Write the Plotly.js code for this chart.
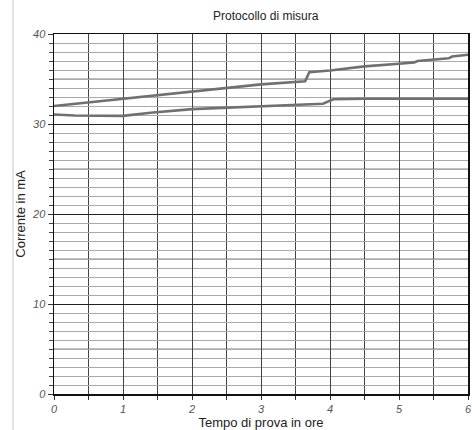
<!DOCTYPE html>
<html>
<head>
<meta charset="utf-8">
<script src="https://cdn.plot.ly/plotly-3.0.1.min.js"></script>
<style>
  html, body { margin: 0; padding: 0; background: #fff; }
  #chart { width: 472px; height: 430px; }
</style>
</head>
<body>
<div id="chart"></div>
<script>
// Measurement log: current (mA) over test time (hours), two recorded curves
const timeUpper = [0, 1, 2, 3, 3.64, 3.67, 3.7, 4, 4.5, 5, 5.22, 5.27, 5.72, 5.77, 6];
const currentUpper = [32.0, 32.8, 33.6, 34.4, 34.75, 35.3, 35.75, 35.95, 36.4, 36.7, 36.85, 37.0, 37.3, 37.5, 37.7];

const timeLower = [0, 0.3, 1.0, 1.4, 2.0, 2.8, 3.5, 3.9, 4.0, 4.05, 4.5, 5, 6];
const currentLower = [31.05, 30.95, 30.9, 31.25, 31.65, 31.9, 32.1, 32.25, 32.6, 32.75, 32.8, 32.8, 32.8];

const xTicks = [0, 1, 2, 3, 4, 5, 6];
const yTicks = [0, 10, 20, 30, 40];
const midLines = [5, 15, 25, 35];

const lineStyle = { color: '#707070', width: 2.6 };
const fontFamily = '"Liberation Sans", Arial, Helvetica, sans-serif';
const tickFont = { family: fontFamily, size: 11, color: '#555', style: 'italic' };

const traces = [
  { x: timeUpper, y: currentUpper, mode: 'lines', line: lineStyle, hoverinfo: 'skip' },
  { x: timeLower, y: currentLower, mode: 'lines', line: lineStyle, hoverinfo: 'skip' }
];

// slightly stronger grid lines every 5 mA between the labelled ones
const shapes = midLines.map(v => ({
  type: 'line', xref: 'paper', x0: 0, x1: 1, yref: 'y', y0: v, y1: v,
  line: { color: '#808080', width: 1 }, layer: 'below'
}));
// faint page edge at the left
shapes.push({
  type: 'line', xref: 'paper', x0: -0.099, x1: -0.099, yref: 'paper', y0: -0.1, y1: 1.1,
  line: { color: '#e4e4e4', width: 2 }
});

const layout = {
  width: 472, height: 430,
  margin: { l: 54, r: 4, t: 34, b: 36 },
  paper_bgcolor: '#fff', plot_bgcolor: '#fff',
  showlegend: false,
  font: { family: fontFamily, color: '#222' },
  title: {
    text: 'Protocollo di misura',
    font: { family: fontFamily, size: 12, color: '#222' },
    x: 0.563, xanchor: 'center', y: 0.963, yanchor: 'middle'
  },
  xaxis: {
    range: [0, 6], tickvals: xTicks, ticktext: xTicks.map(String),
    showgrid: true, gridcolor: '#444', gridwidth: 1,
    showline: true, linecolor: '#111', linewidth: 1.5, mirror: true,
    ticks: 'outside', ticklen: 4, tickcolor: '#333',
    tickfont: tickFont, zeroline: false,
    minor: { dtick: 0.5, showgrid: true, gridcolor: '#444', gridwidth: 1, ticks: 'outside', ticklen: 4, tickcolor: '#333' },
    title: { text: 'Tempo di prova in ore', font: { family: fontFamily, size: 13, color: '#222' }, standoff: 6 },
    fixedrange: true
  },
  yaxis: {
    range: [0, 40], tickvals: yTicks, ticktext: yTicks.map(String),
    showgrid: true, gridcolor: '#222', gridwidth: 1,
    showline: true, linecolor: '#111', linewidth: 1.5, mirror: true,
    ticks: 'outside', ticklen: 5, tickcolor: '#333',
    tickfont: tickFont, zeroline: false,
    minor: { dtick: 1, showgrid: true, gridcolor: '#aaa', gridwidth: 1, ticks: 'outside', ticklen: 4, tickcolor: '#444' },
    title: { text: 'Corrente in mA', font: { family: fontFamily, size: 13, color: '#222' }, standoff: 3 },
    fixedrange: true
  },
  shapes: shapes
};

Plotly.newPlot('chart', traces, layout, { staticPlot: true, displayModeBar: false });
</script>
</body>
</html>
